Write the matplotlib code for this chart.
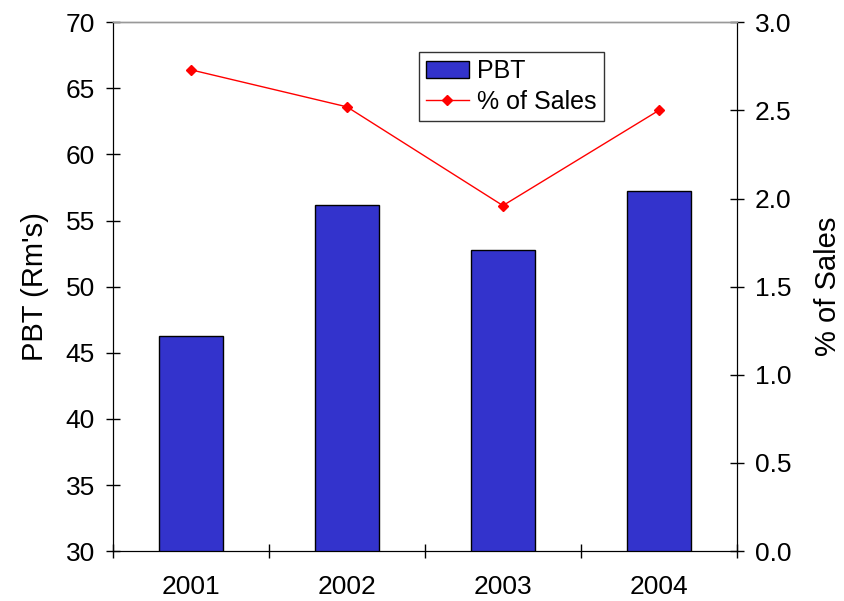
import matplotlib.pyplot as plt
import numpy as np

years = ['2001', '2002', '2003', '2004']
pbt = [46.3, 56.2, 52.8, 57.2]
pct_sales = [2.73, 2.52, 1.96, 2.50]

plt.rcParams['font.family'] = ['Liberation Sans', 'DejaVu Sans']

fig = plt.figure(figsize=(8.44, 6.01), dpi=100)
ax = fig.add_axes([0.134, 0.083, 0.739, 0.880])
ax2 = ax.twinx()

x = np.arange(len(years)) + 0.5
bars = ax.bar(x, pbt, width=0.41, color='#3333CC', edgecolor='black', linewidth=1, label='PBT', zorder=2)
line, = ax2.plot(x, pct_sales, color='red', marker='D', markersize=5, linewidth=1, label='% of Sales')

ax.set_xlim(0, 4)
ax.set_ylim(30, 70)
ax.set_yticks(np.arange(30, 71, 5))
ax2.set_ylim(0, 3.0)
ax2.set_yticks(np.arange(0, 3.01, 0.5))
ax2.set_yticklabels([f'{v:.1f}' for v in np.arange(0, 3.01, 0.5)])

ax.set_xticks([0, 1, 2, 3, 4])
ax.set_xticklabels([])
ax.set_xticks(x, minor=True)
ax.set_xticklabels(years, minor=True)
ax.tick_params(axis='x', which='minor', length=0, labelsize=19, pad=17)
ax.tick_params(axis='x', which='major', direction='inout', length=10, width=1)
ax.tick_params(axis='y', direction='inout', length=10, width=1, labelsize=19, pad=8)
ax2.tick_params(axis='y', direction='inout', length=10, width=1, labelsize=19, pad=8)

ax.set_ylabel("PBT (Rm's)", fontsize=21, labelpad=12)
ax2.set_ylabel('% of Sales', fontsize=21, labelpad=16)

for a in (ax, ax2):
    a.spines['top'].set_color('#999999')
    a.spines['top'].set_linewidth(1)

leg = ax2.legend([bars, line], ['PBT', '% of Sales'], loc='upper left',
                 bbox_to_anchor=(419 / 844, 1 - 52 / 601), bbox_transform=fig.transFigure,
                 fontsize=18, frameon=True, fancybox=False, edgecolor='black',
                 borderpad=0.28, handlelength=1.7, handletextpad=0.35,
                 labelspacing=0.28, borderaxespad=0)
leg.get_frame().set_linewidth(1)

fig.savefig('out.png', dpi=100)
